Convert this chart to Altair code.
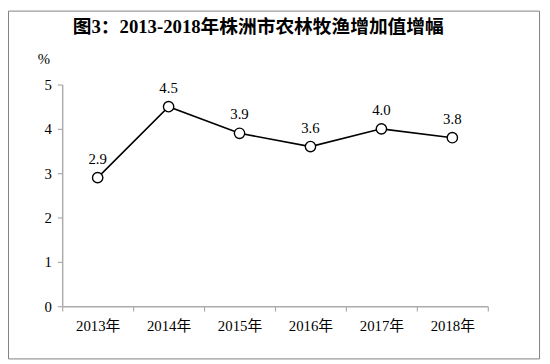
import altair as alt
import pandas as pd

years = ["2013年", "2014年", "2015年", "2016年", "2017年", "2018年"]
values = [2.9, 4.5, 3.9, 3.6, 4.0, 3.8]
labels = ["2.9", "4.5", "3.9", "3.6", "4.0", "3.8"]
title_text = "图3：2013-2018年株洲市农林牧渔增加值增幅"

df = pd.DataFrame({"year": years, "value": values, "label": labels})

FONT = "'Liberation Serif', 'Times New Roman', 'Noto Sans CJK SC', serif"
AXIS_GRAY = "#ababab"

x = alt.X("year:N", sort=years, title=None,
          scale=alt.Scale(paddingInner=0, paddingOuter=0),
          axis=alt.Axis(tickBand="extent", labelAngle=0, domainColor=AXIS_GRAY,
                        tickColor=AXIS_GRAY, tickSize=5, labelPadding=8,
                        labelFontSize=15, labelFont=FONT, labelColor="#000000",
                        domainWidth=1.5, tickWidth=1.2))
y = alt.Y("value:Q", title="%",
          scale=alt.Scale(domain=[0, 5], nice=False),
          axis=alt.Axis(values=[0, 1, 2, 3, 4, 5], grid=False, domainColor=AXIS_GRAY,
                        tickColor=AXIS_GRAY, tickSize=5, labelPadding=6,
                        labelFontSize=15, labelFont=FONT, labelColor="#000000",
                        domainWidth=1.5, tickWidth=1.2,
                        titleAngle=0, titleX=-19, titleY=-26, titleAlign="center",
                        titleBaseline="middle", titleFont=FONT, titleFontSize=15,
                        titleFontWeight="normal", titleColor="#000000"))

base = alt.Chart(df).encode(x=x, y=y)

line = base.mark_line(color="#000000", strokeWidth=1.6)
points = base.mark_point(filled=True, fill="#ffffff", stroke="#000000",
                         strokeWidth=1.4, size=110, shape="circle", opacity=1)
text = base.mark_text(dy=-19, fontSize=15, font=FONT, color="#000000").encode(text="label:N")

border = alt.Chart(alt.Data(values=[{}])).mark_rect(
    fill="#ffffff", fillOpacity=0, stroke="#808080", strokeWidth=1
).encode(x=alt.value(-54.5), x2=alt.value(484.5), y=alt.value(-74.5), y2=alt.value(278.5))

title = alt.Chart(alt.Data(values=[{"t": title_text}])).mark_text(
    font=FONT, fontSize=19, fontWeight="bold", color="#000000",
    align="center", baseline="alphabetic"
).encode(text="t:N", x=alt.value(199), y=alt.value(-52))

chart = alt.layer(border, line, points, text, title).properties(
    width=432, height=225,
    autosize=alt.AutoSizeParams(type="none"),
    padding={"left": 55, "top": 75, "right": 55, "bottom": 56},
).configure_view(stroke=None)

chart.save("out.html", embed_options={"renderer": "svg", "actions": False})
